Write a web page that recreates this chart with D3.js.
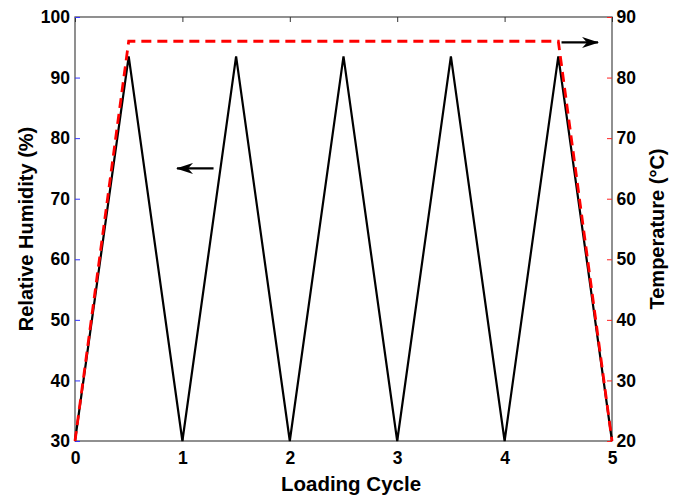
<!DOCTYPE html>
<html><head><meta charset="utf-8">
<script src="https://cdn.jsdelivr.net/npm/d3@7"></script>
<style>body{margin:0;background:#fff}svg{display:block}text{font-family:"Liberation Sans",Arial,sans-serif;font-weight:bold}</style>
</head><body>
<script>
const cycleTicks = [0,1,2,3,4,5];
const rhTicks = [30,40,50,60,70,80,90,100];
const tempTicks = [20,30,40,50,60,70,80,90];
const rhX = [0,0.5,1,1.5,2,2.5,3,3.5,4,4.5,5];
const rhY = [30,93.5,30,93.5,30,93.5,30,93.5,30,93.5,30];
const tempX = [0,0.5,4.5,5];
const tempY = [20,86,86,20];
const arrowRH = {from:[1.29,75],to:[0.95,75]};
const arrowT = {from:[4.53,85.8],to:[4.87,85.8]};

const W=680,H=495, L=75,R=612,T=17,B=441;
const svg=d3.select("body").append("svg").attr("width",W).attr("height",H);
const x=d3.scaleLinear().domain([0,5]).range([L,R]);
const yL=d3.scaleLinear().domain([30,100]).range([B,T]);
const yR=d3.scaleLinear().domain([20,90]).range([B,T]);

const defs=svg.append("defs");
defs.append("marker").attr("id","ah").attr("viewBox","0 0 17 11").attr("refX",16).attr("refY",5.5)
 .attr("markerWidth",17).attr("markerHeight",11).attr("markerUnits","userSpaceOnUse").attr("orient","auto")
 .append("path").attr("d","M0,0 L17,5.5 L0,11 L5,5.5 Z").attr("fill","#000");

// frame
svg.append("rect").attr("x",L).attr("y",T).attr("width",R-L).attr("height",B-T).attr("fill","none").attr("stroke","#555").attr("stroke-width",1.3);

// axes
const fs="17.5px";
const gb=svg.append("g").attr("transform",`translate(0,${B})`).call(d3.axisBottom(x).tickValues(cycleTicks).tickFormat(d3.format("d")).tickSizeInner(-5).tickSizeOuter(0));
gb.select(".domain").remove();
gb.selectAll("line").attr("stroke","#333");
gb.selectAll("text").attr("font-size",fs).attr("fill","#000").attr("dy",null).attr("y",22.5);
const gt=svg.append("g").attr("transform",`translate(0,${T})`).call(d3.axisTop(x).tickValues(cycleTicks).tickFormat("").tickSizeInner(-5).tickSizeOuter(0));
gt.select(".domain").remove(); gt.selectAll("line").attr("stroke","#333");

const gl=svg.append("g").attr("transform",`translate(${L},0)`).call(d3.axisLeft(yL).tickValues(rhTicks).tickFormat(d3.format("d")).tickSizeInner(-5).tickSizeOuter(0));
gl.select(".domain").remove();
gl.selectAll("line").attr("stroke","#3333ff");
gl.selectAll("text").attr("font-size",fs).attr("fill","#000").attr("x",-5);

const gr=svg.append("g").attr("transform",`translate(${R},0)`).call(d3.axisRight(yR).tickValues(tempTicks).tickFormat(d3.format("d")).tickSizeInner(-5).tickSizeOuter(0));
gr.select(".domain").remove();
gr.selectAll("line").attr("stroke","#ff2020");
gr.selectAll("text").attr("font-size",fs).attr("fill","#000").attr("x",4.5);

// lines
const rhData=rhX.map((d,i)=>[d,rhY[i]]);
const tData=tempX.map((d,i)=>[d,tempY[i]]);
svg.append("path").datum(rhData).attr("fill","none").attr("stroke","#000").attr("stroke-width",2.2)
 .attr("d",d3.line().x(d=>x(d[0])).y(d=>yL(d[1])));
svg.append("path").datum(tData).attr("fill","none").attr("stroke","#ff0000").attr("stroke-width",2.8).attr("stroke-dasharray","10,6")
 .attr("d",d3.line().x(d=>x(d[0])).y(d=>yR(d[1])));

// arrows
svg.append("line").attr("x1",x(arrowRH.from[0])).attr("y1",yL(arrowRH.from[1])).attr("x2",x(arrowRH.to[0])).attr("y2",yL(arrowRH.to[1]))
 .attr("stroke","#000").attr("stroke-width",2.3).attr("marker-end","url(#ah)");
svg.append("line").attr("x1",x(arrowT.from[0])).attr("y1",yR(arrowT.from[1])).attr("x2",x(arrowT.to[0])).attr("y2",yR(arrowT.to[1]))
 .attr("stroke","#000").attr("stroke-width",2.3).attr("marker-end","url(#ah)");

// titles
svg.append("text").attr("x",351).attr("y",491).attr("text-anchor","middle").attr("font-size","20.5px").text("Loading Cycle");
svg.append("text").attr("transform",`translate(33,${(T+B)/2}) rotate(-90)`).attr("text-anchor","middle").attr("font-size","20px").text("Relative Humidity (%)");
svg.append("text").attr("transform",`translate(664,${(T+B)/2}) rotate(-90)`).attr("text-anchor","middle").attr("font-size","20px").text("Temperature (°C)");
</script>
</body></html>
